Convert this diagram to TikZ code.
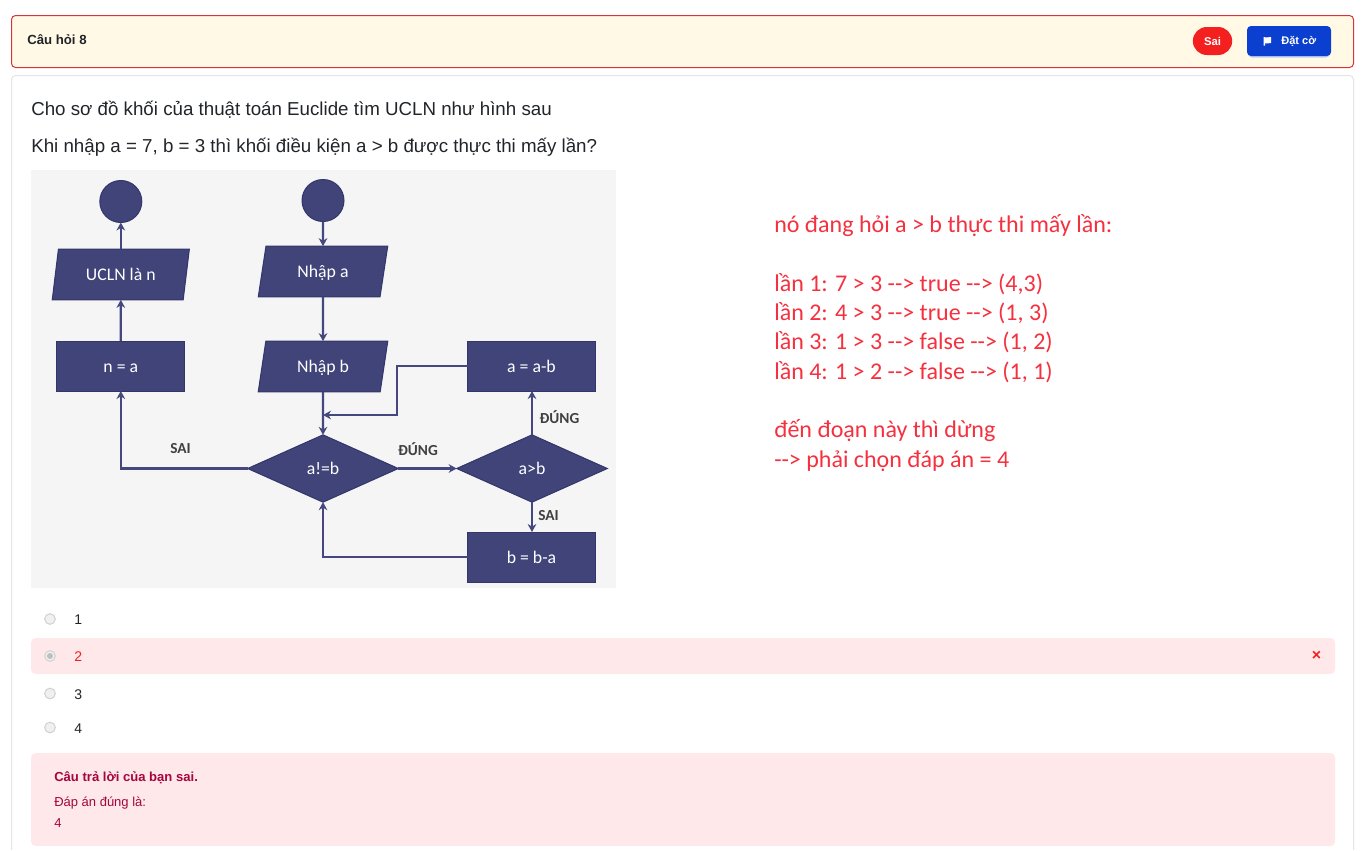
\documentclass[tikz,border=0pt]{standalone}
\usepackage{fontspec}
\setmainfont{Liberation Sans}
\newfontfamily\calfont{Carlito}
\usetikzlibrary{shapes.geometric, arrows.meta}
\definecolor{boxfill}{HTML}{414478}
\definecolor{boxline}{HTML}{33366A}
\definecolor{flowline}{HTML}{44487F}
\definecolor{notered}{HTML}{F5303F}
\definecolor{softred}{HTML}{FEE8EA}
\definecolor{darkred}{HTML}{A6053F}
\definecolor{inktext}{HTML}{212529}
\definecolor{alertred}{HTML}{F41F1F}
\definecolor{flagblue}{HTML}{0A3FCF}
\tikzset{
  pagetext/.style={anchor=base west, inner sep=0pt, text=inktext},
  bigtext/.style={pagetext, font=\fontsize{14.05pt}{16pt}\selectfont},
  opttext/.style={pagetext, font=\fontsize{10.5pt}{12pt}\selectfont},
  smalltext/.style={pagetext, text=darkred, font=\fontsize{9.75pt}{11pt}\selectfont},
  redtext/.style={pagetext, text=notered, font=\calfont\fontsize{18pt}{22pt}\selectfont},
  flowbase/.style={draw=boxline, fill=boxfill, line width=0.75pt, text=white, inner sep=0pt, outer sep=0pt, text height=9.5pt, text depth=0.5pt, font=\calfont\fontsize{13.3pt}{15pt}\selectfont},
  rectbox/.style={flowbase, rectangle, minimum width=96pt, minimum height=37.5pt},
  parabox/.style={flowbase, trapezium, trapezium left angle=75.5, trapezium right angle=104.5, trapezium stretches=true, minimum width=#1, minimum height=38pt},
  condbox/.style={flowbase, diamond, aspect=2.2, minimum width=113pt, minimum height=50.5pt},
  endbox/.style={flowbase, circle, minimum size=31.5pt},
  flow/.style={-{Stealth[length=6pt, width=6.5pt]}, draw=flowline, line width=1.7pt},
  flowlabel/.style={inner sep=0pt, text=black!75, font=\calfont\bfseries\fontsize{11.5pt}{13pt}\selectfont},
  radio/.style={circle, draw=black!18, fill=black!6, line width=0.75pt, minimum size=8pt, inner sep=0pt},
}
\begin{document}
\begin{tikzpicture}[x=0.75pt, y=-0.75pt]
\useasboundingbox (0,0) rectangle (1362,850);
\fill[white] (0,0) rectangle (1362,850);
% header bar
\draw[draw={rgb,255:red,217;green,51;blue,58}, fill={rgb,255:red,255;green,249;blue,230}, line width=0.75pt, rounded corners=3pt] (11.5,15.5) rectangle (1353.5,67.5);
\node[pagetext, font=\bfseries\fontsize{9.9pt}{11pt}\selectfont] (title) at (27,44.5) {Câu hỏi 8};
\node[fill=alertred, text=white, rounded corners=10.5pt, minimum width=29.5pt, minimum height=21pt, inner sep=0pt, font=\bfseries\fontsize{8.5pt}{10pt}\selectfont] (verdict) at (1212.5,41) {Sai};
\fill[flagblue!25!white, rounded corners=3pt] (1248,28) rectangle (1330,57.5);
\fill[fill=flagblue, rounded corners=3pt] (1247,26) rectangle (1331,56);
\fill[white] (1263.5,37) -- (1266,37.5) -- (1271,37) -- (1271,43) -- (1266,43.5) -- (1265,43) -- (1265,45.5) -- (1263.5,45.5) -- cycle;
\node[pagetext, text=white, font=\bfseries\fontsize{8.3pt}{10pt}\selectfont] (flagtext) at (1281,44) {Đặt cờ};
% question card
\draw[black!10, line width=0.75pt, rounded corners=3pt] (11.5,850) -- (11.5,75.5) -- (1353.5,75.5) -- (1353.5,850);
\node[bigtext] (questiona) at (31,115.5) {Cho sơ đồ khối của thuật toán Euclide tìm UCLN như hình sau};
\node[bigtext] (questionb) at (31,152.5) {Khi nhập a = 7, b = 3 thì khối điều kiện a > b được thực thi mấy lần?};
% flowchart
\fill[black!4] (31,170) rectangle (616,588);
\node[endbox] (stopc) at (120.8,201.5) {};
\node[endbox] (startc) at (323,200.5) {};
\node[parabox=103pt] (result) at (120.8,274.5) {UCLN là n};
\node[parabox=97.5pt] (inputa) at (323,271.5) {Nhập a};
\node[parabox=97.5pt] (inputb) at (323,366.5) {Nhập b};
\node[rectbox] (assign) at (120.8,366) {n = a};
\node[rectbox] (suba) at (531.5,366) {a = a-b};
\node[rectbox] (subb) at (531.5,557) {b = b-a};
\node[condbox] (neq) at (323,468.5) {a!=b};
\node[condbox] (greater) at (532,468.5) {a>b};
\coordinate (joinpt) at (323,415);
\draw[flow] (startc) -- (inputa);
\draw[flow] (inputa) -- (inputb);
\draw[flow] (inputb) -- (neq);
\draw[flow] (suba.west) -- ++(-70.5,0) |- (joinpt);
\draw[flow] (neq.west) -| (assign.south);
\draw[flow] (assign) -- (result);
\draw[flow] (result) -- (stopc);
\draw[flow] (neq) -- (greater);
\draw[flow] (greater.north) -- (greater.north |- suba.south);
\draw[flow] (greater.south) -- (greater.south |- subb.north);
\draw[flow] (subb.west) -| (neq.south);
\node[flowlabel] (lblsai) at (180.5,449) {SAI};
\node[flowlabel] (lbldung) at (418,449) {ĐÚNG};
\node[flowlabel] (lbldungb) at (559.5,417) {ĐÚNG};
\node[flowlabel] (lblsaib) at (548.5,516) {SAI};
% red note
\node[redtext] (notea) at (774,232.5) {nó đang hỏi a > b thực thi mấy lần:};
\node[redtext] (noteb) at (774,291) {lần 1: 7 > 3 --{}> true --{}> (4,3)};
\node[redtext] (notec) at (774,320.5) {lần 2: 4 > 3 --{}> true --{}> (1, 3)};
\node[redtext] (noted) at (774,349.5) {lần 3: 1 > 3 --{}> false --{}> (1, 2)};
\node[redtext] (notee) at (774,379) {lần 4: 1 > 2 --{}> false --{}> (1, 1)};
\node[redtext] (notef) at (774,437.5) {đến đoạn này thì dừng};
\node[redtext] (noteg) at (774,467) {--{}> phải chọn đáp án = 4};
% answers
\fill[softred, rounded corners=3.5pt] (31,638) rectangle (1335,674);
\node[radio] (radioa) at (50,619) {};
\node[radio] (radiob) at (50,656) {};
\node[circle, fill=black!25, minimum size=4.5pt, inner sep=0pt] (radiodot) at (50,656) {};
\node[radio] (radioc) at (50,693.5) {};
\node[radio] (radiod) at (50,727.5) {};
\node[opttext] (opta) at (74,624) {1};
\node[opttext, text=alertred] (optb) at (74,661) {2};
\node[opttext] (optc) at (74,699) {3};
\node[opttext] (optd) at (74,733) {4};
\node[text=alertred, inner sep=0pt, font=\bfseries\fontsize{12pt}{12pt}\selectfont] (wrongx) at (1316.5,656) {×};
% feedback box
\fill[softred, rounded corners=3.5pt] (31,753) rectangle (1335,846);
\node[smalltext, font=\bfseries\fontsize{9.8pt}{11pt}\selectfont] (feedback) at (54,781) {Câu trả lời của bạn sai.};
\node[smalltext] (correct) at (54,806) {Đáp án đúng là:};
\node[smalltext] (correctval) at (54,827) {4};
\end{tikzpicture}
\end{document}
